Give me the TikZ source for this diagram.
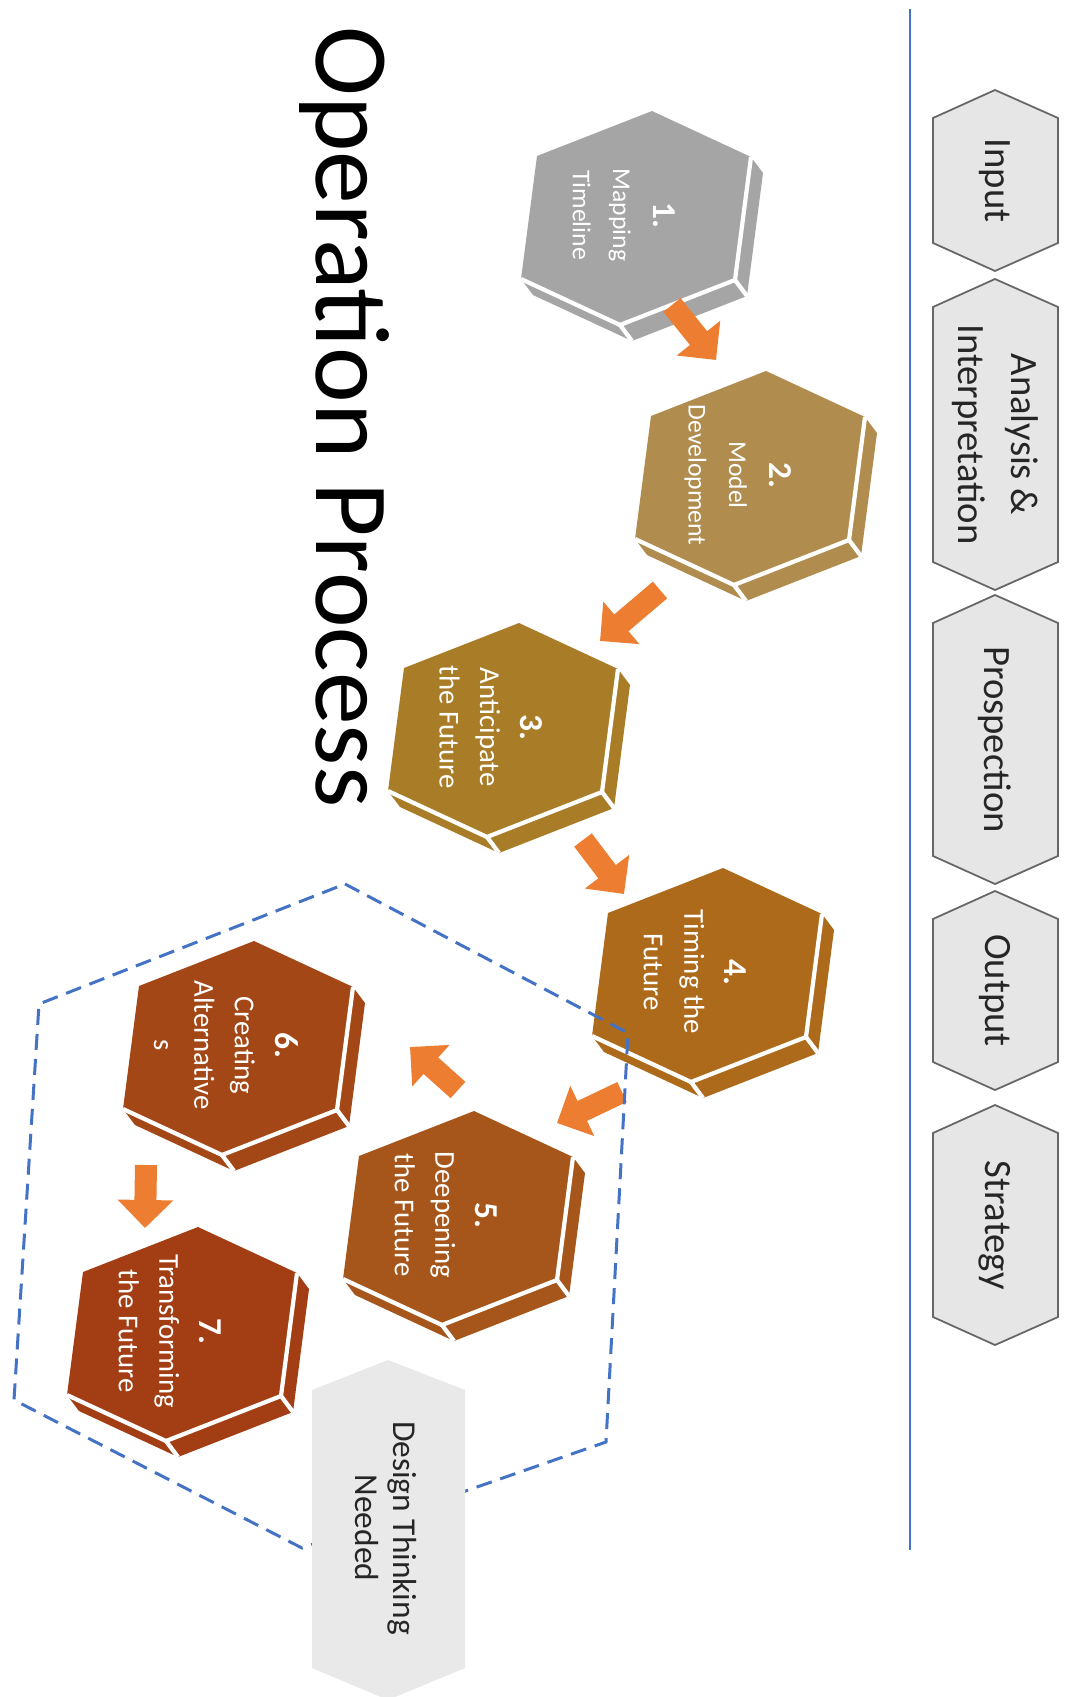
\documentclass[tikz,border=0pt]{standalone}
\usepackage{fontspec}
\setmainfont{Carlito}
\usetikzlibrary{arrows.meta}
\definecolor{hexA}{HTML}{A5A5A5}
\definecolor{hexB}{HTML}{B08D4F}
\definecolor{hexC}{HTML}{A97C28}
\definecolor{hexD}{HTML}{AE6A1B}
\definecolor{hexE}{HTML}{A6561A}
\definecolor{hexF}{HTML}{A44716}
\definecolor{hexG}{HTML}{A33D14}
\definecolor{arrowc}{HTML}{ED7D31}
\definecolor{lineblue}{HTML}{4472C4}
\definecolor{boxgray}{HTML}{E7E6E6}
\begin{document}
\begin{tikzpicture}[x=0.01cm,y=-0.01cm,
	hexlabel/.style={rotate=-90,align=center,text=white,inner sep=0},
	stagebox/.style={fill=boxgray,draw=black!60,line width=0.5pt},
	stagelabel/.style={rotate=-90,align=center,text=black!85,inner sep=0,
		font=\fontsize{11}{15}\selectfont},
	flowarrow/.style={draw=arrowc,line width=0.22cm,
		-{Triangle[width=0.54cm,length=0.28cm]}},
	groupline/.style={draw=lineblue,line width=0.85pt,dash pattern=on 0.16cm off 0.09cm}]
\path[fill=white,use as bounding box] (0,0) rectangle (1065,1697);

% title
\node[rotate=-90,anchor=base west,inner sep=0,font=\fontsize{30}{32}\selectfont]
	(title) at (316,26) {Operation Process};

% stages on the right
\coordinate (lt) at (910,9);
\coordinate (lb) at (910,1550);
\draw[lineblue,line width=0.8pt] (lt) -- (lb);
\foreach \ya/\yb/\nm/\txt in {90/271/in/Input, 279/590/an/{Analysis \&\\Interpretation},
	595/884/pr/Prospection, 891/1090/ou/Output, 1105/1345/st/Strategy} {
	\draw[stagebox] (933,\ya+28) -- (995,\ya) -- (1058,\ya+28) -- (1058,\yb-28)
		-- (995,\yb) -- (933,\yb-28) -- cycle;
	\node[stagelabel] (\nm) at (995,{(\ya+\yb)/2}) {\txt};
}

% the seven steps
\foreach \n/\cx/\cy/\col/\fs/\txt in {
	1/636/218/hexA/7.3/{Mapping\\Timeline},
	2/750/478/hexB/7.3/{Model\\Development},
	3/503/730/hexC/8.2/{Anticipate\\the Future},
	4/707/975/hexD/8.2/{Timing the\\Future},
	5/458/1218/hexE/8.2/{Deepening\\the Future},
	6/238/1048/hexF/8.2/{Creating\\Alternative\\s},
	7/182/1334/hexG/8.2/{Transforming\\the Future}} {
	\begin{scope}[shift={(\cx,\cy)}]
	\fill[\col] (16,-107) -- (115,-61) -- (127,-45) -- (111,78) -- (-4,123)
		-- (-103,77) -- (-115,61) -- (-99,-62) -- cycle;
	\draw[white,line width=1.2pt,line join=round] (115,-61) -- (99,62) -- (-16,107) -- (-115,61);
	\draw[white,line width=1.2pt] (99,62) -- (111,78) (-16,107) -- (-4,123);
	\node[hexlabel,font=\fontsize{\fs}{11.5}\selectfont] (h\n) at (-12,-3)
		{{\fontsize{9.5}{11.5}\selectfont\bfseries\n.}\\\txt};
	\end{scope}
}

% arrows between steps
\coordinate (s1) at (672,305);  \coordinate (e1) at (716,360);
\coordinate (s2) at (660,590);  \coordinate (e2) at (600,641);
\coordinate (s3) at (583,840);  \coordinate (e3) at (624,894);
\coordinate (s4) at (622,1092); \coordinate (e4) at (557,1123);
\coordinate (s5) at (458,1090); \coordinate (e5) at (410,1047);
\coordinate (s6) at (146,1165); \coordinate (e6) at (145,1228);
\foreach \i in {1,...,6}
	\draw[flowarrow] (s\i) -- (e\i);

% design thinking group
\draw[groupline] (345,884) -- (628,1033) -- (606,1442) -- (302,1548)
	-- (14,1400) -- (39,1004) -- cycle;
\fill[boxgray!90!white] (312,1390) -- (388,1360) -- (465,1390) -- (465,1668)
	-- (388,1700) -- (312,1668) -- cycle;
\node[stagelabel,font=\fontsize{9.5}{11}\selectfont] (dt) at (386,1528)
	{Design Thinking\\Needed};
\end{tikzpicture}
\end{document}
